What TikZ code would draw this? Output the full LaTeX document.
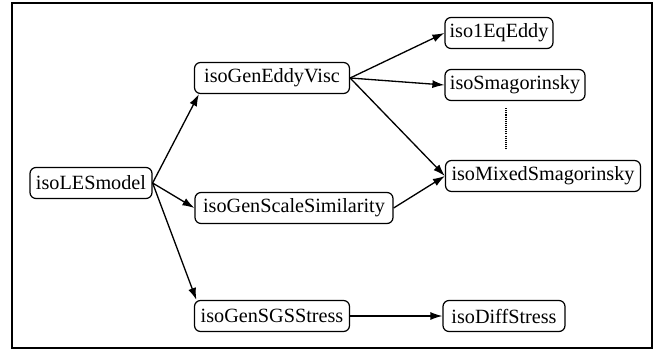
\documentclass[tikz,border=0pt]{standalone}
\usepackage{fontspec}
\setmainfont{Liberation Serif}
\newfontfamily\clsfont{Liberation Serif}
\usetikzlibrary{arrows.meta,positioning}
\usetikzlibrary{calc}

\begin{document}
\begin{tikzpicture}[
  cls/.style={draw,rounded corners=0.12cm,line width=0.7pt,minimum height=0.62cm,inner xsep=1pt,inner ysep=1pt,font=\clsfont\fontsize{11.5}{13}\selectfont},
  dep/.style={-{Latex[length=0.24cm,width=0.16cm]},line width=0.75pt}]
\useasboundingbox (0,0) rectangle (13.08,7.06);
\draw[line width=0.9pt] (0.24,0.10) rectangle (13.04,7.0);
\node[cls,minimum width=2.44cm] (les) at (1.82,3.40) {isoLESmodel};
\node[cls,minimum width=3.10cm] (eddy) at (5.44,5.50) {isoGenEddyVisc};
\node[cls,minimum width=3.96cm] (ss) at (5.88,2.90) {isoGenScaleSimilarity};
\node[cls,minimum width=3.10cm] (sgs) at (5.44,0.74) {isoGenSGSStress};
\node[cls,minimum width=2.16cm] (eq) at (9.98,6.40) {iso1EqEddy};
\node[cls,minimum width=2.80cm] (smag) at (10.30,5.36) {isoSmagorinsky};
\node[cls,minimum width=3.90cm] (mixed) at (10.86,3.54) {isoMixedSmagorinsky};
\node[cls,minimum width=2.44cm] (diff) at (10.08,0.74) {isoDiffStress};
\draw[dep] (les.east) -- ([xshift=0.1cm]eddy.south west);
\draw[dep] (les.east) -- (ss.west);
\draw[dep] (les.east) -- ([xshift=0.05cm]sgs.north west);
\draw[dep] (eddy.east) -- (eq.west);
\draw[dep] (eddy.east) -- (smag.west);
\draw[dep] (eddy.east) -- (mixed.west);
\draw[dep] (ss.east) -- (mixed.west);
\draw[dep] (sgs.east) -- (diff.west);
\draw[dash pattern=on 0.6pt off 0.6pt,line width=0.6pt] ([xshift=-0.18cm,yshift=-0.14cm]smag.south) -- ([xshift=-0.18cm,yshift=0.2cm]smag.south |- mixed.north);
\end{tikzpicture}
\end{document}
